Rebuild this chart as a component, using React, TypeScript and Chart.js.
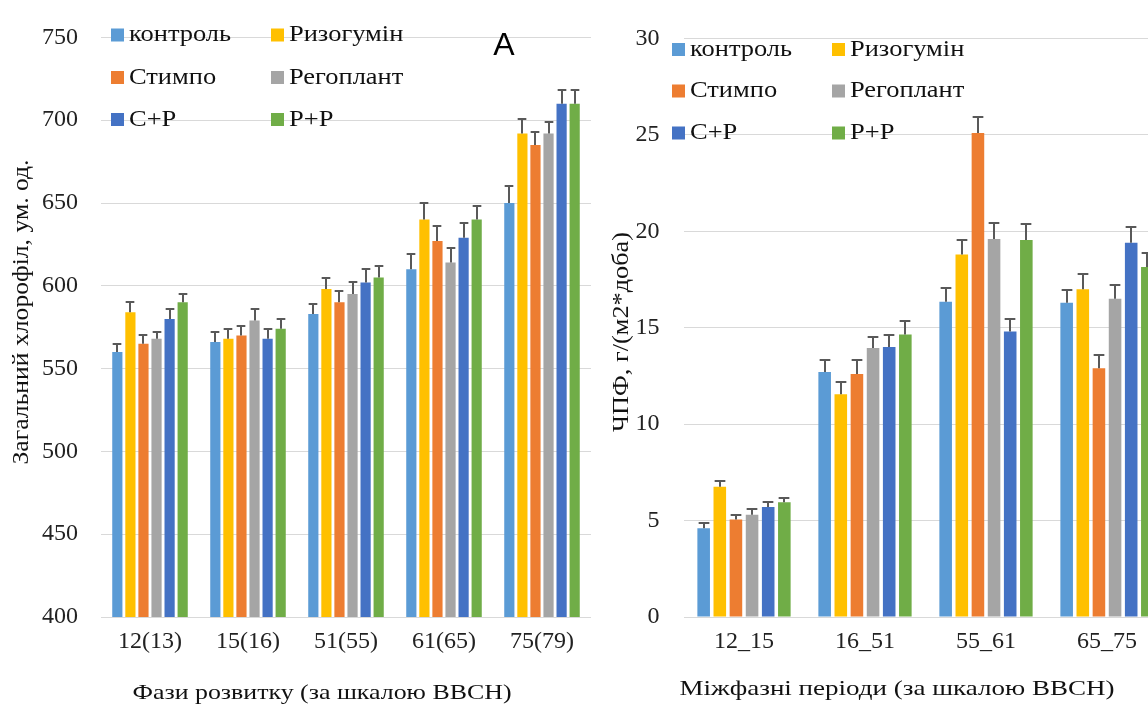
import React, { useEffect, useRef } from "react";
import { Chart, registerables } from "chart.js";

Chart.register(...registerables);

// ---------- data ----------
const seriesNames = ["контроль", "Ризогумін", "Стимпо", "Регоплант", "С+Р", "Р+Р"];
const seriesColors = ["#5B9BD5", "#FFC000", "#ED7D31", "#A5A5A5", "#4472C4", "#70AD47"];

// Panel A: total chlorophyll
const phasesA = ["12(13)", "15(16)", "51(55)", "61(65)", "75(79)"];
const chlControl = [560, 566, 583, 610, 650];
const chlRizogumin = [584, 568, 598, 640, 692];
const chlStimpo = [565, 570, 590, 627, 685];
const chlRegoplant = [568, 579, 595, 614, 692];
const chlSR = [580, 568, 602, 629, 710];
const chlRR = [590, 574, 605, 640, 710];
const chlControlErr = [5, 6, 6, 9, 10];
const chlRizoguminErr = [6, 6, 7, 10, 9];
const chlStimpoErr = [5, 6, 7, 9, 8];
const chlRegoplantErr = [4, 7, 7, 9, 7];
const chlSRErr = [6, 6, 8, 9, 8];
const chlRRErr = [5, 6, 7, 8, 8];
const ticksA = [400, 450, 500, 550, 600, 650, 700, 750];

// Panel B: net photosynthesis productivity
const periodsB = ["12_15", "16_51", "55_61", "65_75"];
const npControl = [4.6, 12.7, 16.35, 16.3];
const npRizogumin = [6.75, 11.55, 18.8, 17.0];
const npStimpo = [5.05, 12.6, 25.1, 12.9];
const npRegoplant = [5.3, 13.95, 19.6, 16.5];
const npSR = [5.7, 14.0, 14.8, 19.4];
const npRR = [5.95, 14.65, 19.55, 18.15];
const npControlErr = [0.25, 0.6, 0.7, 0.65];
const npRizoguminErr = [0.3, 0.65, 0.75, 0.8];
const npStimpoErr = [0.22, 0.7, 0.8, 0.7];
const npRegoplantErr = [0.3, 0.55, 0.85, 0.7];
const npSRErr = [0.28, 0.6, 0.65, 0.8];
const npRRErr = [0.22, 0.7, 0.85, 0.7];
const ticksB = [0, 5, 10, 15, 20, 25, 30];

const seriesA = [chlControl, chlRizogumin, chlStimpo, chlRegoplant, chlSR, chlRR];
const errorsA = [chlControlErr, chlRizoguminErr, chlStimpoErr, chlRegoplantErr, chlSRErr, chlRRErr];
const seriesB = [npControl, npRizogumin, npStimpo, npRegoplant, npSR, npRR];
const errorsB = [npControlErr, npRizoguminErr, npStimpoErr, npRegoplantErr, npSRErr, npRRErr];

const SERIF = "'Liberation Serif', 'Times New Roman', serif";
const TEXT = "#111";
const TICK = "#222";

// ---------- helpers ----------
function drawText(ctx: CanvasRenderingContext2D, t: any) {
  ctx.save();
  ctx.translate(t.x, t.y);
  if (t.rotation) ctx.rotate(t.rotation);
  ctx.font = t.font;
  let sx = t.scaleX ?? 1;
  if (t.width) sx = t.width / ctx.measureText(t.text).width;
  ctx.scale(sx, 1);
  ctx.textAlign = t.align ?? "center";
  ctx.textBaseline = "middle";
  ctx.fillStyle = t.color ?? TEXT;
  ctx.fillText(t.text, 0, 0);
  ctx.restore();
}

const errorBarPlugin = {
  id: "errorBars",
  afterDatasetsDraw(chart: any, _args: any, opts: any) {
    const ctx = chart.ctx as CanvasRenderingContext2D;
    const yScale = chart.scales.y;
    ctx.save();
    ctx.strokeStyle = opts.color ?? "#595959";
    ctx.lineWidth = opts.lineWidth ?? 2;
    chart.data.datasets.forEach((ds: any, i: number) => {
      const errs = ds.errors;
      if (!errs) return;
      const meta = chart.getDatasetMeta(i);
      meta.data.forEach((bar: any, j: number) => {
        const v = ds.data[j];
        const top = Math.round(yScale.getPixelForValue(v + errs[j]));
        const x = Math.round(bar.x);
        const w = bar.width * (opts.capRatio ?? 0.85);
        ctx.beginPath();
        ctx.moveTo(x, bar.y);
        ctx.lineTo(x, top);
        ctx.moveTo(x - w / 2, top);
        ctx.lineTo(x + w / 2, top);
        ctx.stroke();
      });
    });
    ctx.restore();
  },
};

const decorPlugin = {
  id: "decor",
  afterDraw(chart: any, _args: any, opts: any) {
    const ctx = chart.ctx as CanvasRenderingContext2D;
    const lg = opts.legend;
    if (lg) {
      chart.data.datasets.forEach((ds: any, i: number) => {
        const col = i % 2;
        const row = Math.floor(i / 2);
        const cy = lg.rowY[row];
        ctx.fillStyle = ds.backgroundColor;
        ctx.fillRect(lg.swatchX[col], cy - lg.size / 2, lg.size, lg.size);
        drawText(ctx, {
          text: ds.label,
          x: lg.textX[col],
          y: cy,
          font: lg.font,
          align: "left",
          scaleX: lg.scaleX,
          color: TEXT,
        });
      });
    }
    (opts.texts || []).forEach((t: any) => drawText(ctx, t));
  },
};

function buildConfig(
  labels: string[],
  series: number[][],
  errors: number[][],
  yMin: number,
  yMax: number,
  step: number,
  tickValues: number[],
  geom: any,
  decor: any
) {
  return {
    type: "bar" as const,
    data: {
      labels,
      datasets: series.map((d, i) => ({
        label: seriesNames[i],
        data: d,
        errors: errors[i],
        backgroundColor: seriesColors[i],
        borderWidth: 0,
        categoryPercentage: 0.8,
        barPercentage: 0.78,
      })),
    },
    options: {
      responsive: false,
      animation: false,
      events: [],
      layout: { padding: geom.padding },
      plugins: {
        legend: { display: false },
        tooltip: { enabled: false },
        errorBars: { color: "#595959", lineWidth: 2, capRatio: 0.85 },
        decor,
      },
      scales: {
        x: {
          grid: { display: false, drawTicks: false },
          border: { display: false },
          ticks: {
            font: { family: SERIF, size: 24 },
            color: TICK,
            padding: geom.xTickPad,
            maxRotation: 0,
            autoSkip: false,
          },
          afterFit: (s: any) => {
            s.height = geom.xHeight;
          },
        },
        y: {
          min: yMin,
          max: yMax,
          afterBuildTicks: (s: any) => {
            s.ticks = tickValues.map((v) => ({ value: v }));
          },
          ticks: {
            stepSize: step,
            font: { family: SERIF, size: 24 },
            color: TICK,
            padding: geom.yTickPad,
          },
          grid: { color: "#d9d9d9", drawTicks: false, lineWidth: 1 },
          border: { display: false },
          afterFit: (s: any) => {
            s.width = geom.yWidth;
          },
        },
      },
    },
    plugins: [errorBarPlugin, decorPlugin],
  };
}

export default function App() {
  const leftRef = useRef<HTMLCanvasElement>(null);
  const rightRef = useRef<HTMLCanvasElement>(null);

  useEffect(() => {
    const left = new Chart(
      leftRef.current as HTMLCanvasElement,
      buildConfig(
        phasesA,
        seriesA,
        errorsA,
        400,
        750,
        50,
        ticksA,
        { padding: { top: 20, right: 9, bottom: 0, left: 0 }, yWidth: 101, xHeight: 90, xTickPad: 10, yTickPad: 23 },
        {
          legend: {
            swatchX: [111, 271],
            textX: [129, 289],
            rowY: [35, 77.5, 119.5],
            size: 13,
            font: `23px ${SERIF}`,
            scaleX: 1.15,
          },
          texts: [
            { text: "A", x: 504, y: 46, font: "32px 'Liberation Sans', Arial, sans-serif", color: "#000" },
            {
              text: "Загальний хлорофіл, ум. од.",
              x: 22,
              y: 312,
              rotation: -Math.PI / 2,
              font: `23px ${SERIF}`,
              width: 305,
            },
            { text: "Фази розвитку (за шкалою BBCH)", x: 322, y: 693, font: `22px ${SERIF}`, width: 379 },
          ],
        }
      ) as any
    );
    const right = new Chart(
      rightRef.current as HTMLCanvasElement,
      buildConfig(
        periodsB,
        seriesB,
        errorsB,
        0,
        30,
        5,
        ticksB,
        { padding: { top: 33, right: 32.5, bottom: 0, left: 0 }, yWidth: 83.5, xHeight: 90, xTickPad: 10, yTickPad: 24 },
        {
          legend: {
            swatchX: [72, 232],
            textX: [90, 250],
            rowY: [49.5, 91, 133],
            size: 13,
            font: `23px ${SERIF}`,
            scaleX: 1.15,
          },
          texts: [
            {
              text: "ЧПФ, г/(м2*доба)",
              x: 22,
              y: 332,
              rotation: -Math.PI / 2,
              font: `23px ${SERIF}`,
              width: 200,
            },
            { text: "Міжфазні періоди (за шкалою BBCH)", x: 297, y: 689, font: `22px ${SERIF}`, width: 435 },
          ],
        }
      ) as any
    );
    return () => {
      left.destroy();
      right.destroy();
    };
  }, []);

  return (
    <div
      style={{
        position: "fixed",
        left: 0,
        top: 0,
        width: 1148,
        height: 707,
        overflow: "hidden",
        background: "#fff",
      }}
    >
      <div style={{ position: "absolute", left: 0, top: 0, width: 600, height: 707 }}>
        <canvas ref={leftRef} width={600} height={707} style={{ width: 600, height: 707, display: "block" }} />
      </div>
      <div style={{ position: "absolute", left: 600, top: 0, width: 600, height: 707 }}>
        <canvas ref={rightRef} width={600} height={707} style={{ width: 600, height: 707, display: "block" }} />
      </div>
    </div>
  );
}
